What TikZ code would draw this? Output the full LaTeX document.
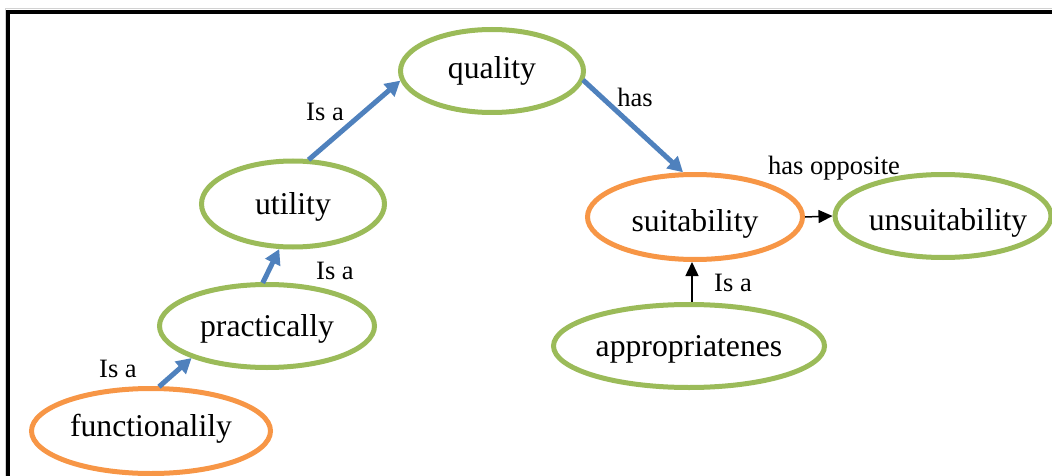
\documentclass[tikz,border=0pt]{standalone}
\usepackage{fontspec}
\setmainfont{Liberation Serif}
\usetikzlibrary{shapes.geometric,arrows.meta}

\definecolor{conceptgreen}{HTML}{9BBB59}
\definecolor{conceptorange}{HTML}{F79646}
\definecolor{linkblue}{HTML}{4F81BD}

% lower a word inside its ellipse without changing the node's size
\newcommand\dropword[2]{\raisebox{-#1}[\height][\depth]{#2}}

\tikzset{
  concept/.style={ellipse, draw, line width=5pt, inner sep=0pt,
    font=\fontsize{31.7}{38}\selectfont},
  greenconcept/.style={concept, draw=conceptgreen},
  orangeconcept/.style={concept, draw=conceptorange},
  bluelink/.style={draw=linkblue, line width=5pt,
    -{Triangle[width=16pt,length=15pt]}, shorten <=-1pt},
  blacklink/.style={draw=black, line width=1.5pt,
    -{Triangle[width=13pt,length=14pt]}},
  linklabel/.style={inner sep=0pt, font=\fontsize{26.5}{32}\selectfont}
}

\begin{document}
\begin{tikzpicture}[x=1pt,y=-1pt]
  \useasboundingbox (0,0) rectangle (1052,476);
  \clip (0,0) rectangle (1052,476);

  % page frame
  \draw[gray!35, line width=1pt] (5,9) rectangle (1080,500);
  \draw[black, line width=4pt] (8,12) rectangle (1080,500);

  % concepts
  \node[greenconcept, minimum width=183pt, minimum height=83pt] (quality) at (492,71) {quality};
  \node[greenconcept, minimum width=183pt, minimum height=86pt] (utility) at (293,204) {\dropword{3pt}{utility}};
  \node[greenconcept, minimum width=215pt, minimum height=83pt] (prac) at (267,326) {\dropword{3pt}{practically}};
  \node[orangeconcept, minimum width=239pt, minimum height=85pt] (func) at (151,431) {\dropword{-2pt}{functionalily}};
  \node[orangeconcept, minimum width=215pt, minimum height=85pt] (suit) at (695,217) {\dropword{7pt}{suitability}};
  \node[greenconcept, minimum width=216pt, minimum height=83pt] (unsuit) at (943,216) {\makebox[0pt]{\hspace*{10pt}\dropword{7pt}{unsuitability}}};
  \node[greenconcept, minimum width=271pt, minimum height=83pt] (appr) at (689,346) {\dropword{3pt}{appropriatenes}};

  % links
  \draw[bluelink] (func.79) -- (prac.203);
  \draw[bluelink] (prac.95) -- (utility.253);
  \draw[bluelink] (utility.70) -- (quality.186);
  \draw[bluelink] (quality.354) -- (suit.105);
  \draw[blacklink] (suit.east) -- (unsuit.west);
  \draw[blacklink] ([xshift=3pt]appr.north) -- ([xshift=3pt]appr.north |- suit.south);

  % link labels
  \node[linklabel] (l1) at (118,369) {Is a};
  \node[linklabel] (l2) at (335,271) {Is a};
  \node[linklabel] (l3) at (325,112) {Is a};
  \node[linklabel] (l4) at (635,97) {has};
  \node[linklabel] (l5) at (834,168) {has opposite};
  \node[linklabel] (l6) at (733,283) {Is a};
\end{tikzpicture}
\end{document}
